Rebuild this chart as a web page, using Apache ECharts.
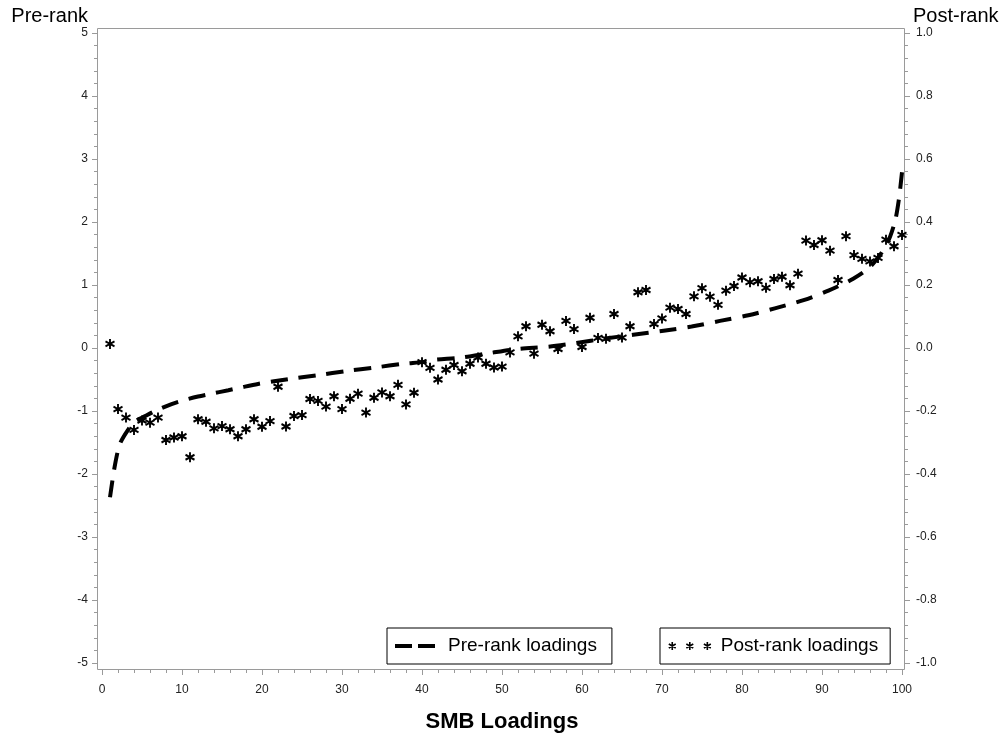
<!DOCTYPE html>
<html><head><meta charset="utf-8">
<script src="https://cdn.jsdelivr.net/npm/echarts@6/dist/echarts.min.js"></script>
<style>html,body{margin:0;padding:0;background:#fff}#c{width:1005px;height:743px}</style>
</head><body><div id="c"></div>
<script>
// x categories: portfolio rank 1..100
const ranks = Array.from({length: 100}, (_, i) => i + 1);
// post-rank loadings (right axis)
const postRank = [
  0.013,-0.194,-0.221,-0.260,-0.230,-0.237,-0.221,-0.292,-0.284,-0.280,
 -0.347,-0.226,-0.234,-0.255,-0.248,-0.258,-0.280,-0.258,-0.226,-0.250,
 -0.232,-0.123,-0.249,-0.216,-0.213,-0.162,-0.168,-0.186,-0.153,-0.194,
 -0.161,-0.145,-0.205,-0.158,-0.141,-0.153,-0.117,-0.179,-0.142,-0.045,
 -0.063,-0.100,-0.069,-0.054,-0.074,-0.050,-0.030,-0.050,-0.062,-0.059,
 -0.014, 0.037, 0.069,-0.018, 0.074, 0.053,-0.003, 0.086, 0.060, 0.003,
  0.096, 0.032, 0.029, 0.108, 0.033, 0.069, 0.177, 0.184, 0.076, 0.094,
  0.128, 0.124, 0.108, 0.164, 0.190, 0.163, 0.137, 0.182, 0.197, 0.224,
  0.209, 0.212, 0.191, 0.219, 0.226, 0.199, 0.236, 0.341, 0.327, 0.342,
  0.309, 0.216, 0.355, 0.295, 0.283, 0.275, 0.286, 0.344, 0.323, 0.359
];
// pre-rank loadings (left axis)
const preX = [1, 1.6, 2.25, 3.3, 4.1, 5.4, 6.8, 8.7, 10.2, 12, 13.5, 15.8, 17.25, 19.5, 23.5, 27, 30.6, 34.1, 37.7, 40.2, 41.4, 45, 48.5, 52, 55.8, 59.3, 62.9, 66.4, 70.2, 73.7, 77.25, 80.8, 84.1, 87.7, 90.8, 93.9, 96.2, 98.1, 99.1, 99.6, 100];
const preY = [-2.37, -1.87, -1.52, -1.29, -1.17, -1.08, -0.99, -0.89, -0.83, -0.77, -0.73, -0.67, -0.63, -0.57, -0.49, -0.43, -0.365, -0.31, -0.25, -0.22, -0.19, -0.15, -0.08, -0.016, 0.02, 0.08, 0.15, 0.21, 0.275, 0.34, 0.43, 0.52, 0.63, 0.76, 0.91, 1.10, 1.31, 1.65, 2.0, 2.35, 2.79];
const seriesNames = ['Pre-rank loadings', 'Post-rank loadings'];
const axisNames = {x: 'SMB Loadings', left: 'Pre-rank', right: 'Post-rank'};

const FONT = 'Liberation Sans, Arial, sans-serif';
const GRAY = '#9a9a9a';
const starPath = 'path://M4.33,0L4.33,10M0,2.5L8.66,7.5M0,7.5L8.66,2.5';
function starsIcon() {
  let p = 'path://';
  [3.46, 21, 38.54].forEach(c => {
    p += `M${c},0L${c},8M${c-3.46},2L${c+3.46},6M${c-3.46},6L${c+3.46},2`;
  });
  return p;
}

const chart = echarts.init(document.getElementById('c'), null, {renderer: 'canvas'});
const labelStyle = {color: '#222', fontSize: 12, fontFamily: FONT};
chart.setOption({
  animation: false,
  backgroundColor: '#fff',
  grid: {left: 102, right: 103, top: 33, bottom: 80},
  graphic: [{
    type: 'rect', shape: {x: 97.5, y: 28.5, width: 807, height: 641},
    style: {fill: 'none', stroke: GRAY, lineWidth: 1}, z: 0, silent: true
  }],
  xAxis: {
    type: 'value', min: 0, max: 100, interval: 10, offset: 7,
    name: axisNames.x, nameLocation: 'middle', nameGap: 41,
    nameTextStyle: {fontSize: 22, fontWeight: 'bold', color: '#000', fontFamily: FONT},
    axisLine: {show: false, onZero: false},
    axisTick: {show: true, length: 5, lineStyle: {color: GRAY}},
    minorTick: {show: true, splitNumber: 5, length: 3, lineStyle: {color: GRAY}},
    splitLine: {show: false},
    axisLabel: Object.assign({margin: 14}, labelStyle)
  },
  yAxis: [{
    type: 'value', min: -5, max: 5, interval: 1, offset: 5, position: 'left',
    name: axisNames.left, nameLocation: 'end', nameGap: 17,
    nameTextStyle: {fontSize: 20, color: '#000', fontFamily: FONT, align: 'right', verticalAlign: 'middle', padding: [0, 9, 0, 0]},
    axisLine: {show: false, onZero: false},
    axisTick: {show: true, length: 5, lineStyle: {color: GRAY}},
    minorTick: {show: true, splitNumber: 5, length: 3, lineStyle: {color: GRAY}},
    splitLine: {show: false},
    axisLabel: Object.assign({margin: 9}, labelStyle)
  }, {
    type: 'value', min: -1, max: 1, interval: 0.2, offset: 3, position: 'right',
    name: axisNames.right, nameLocation: 'end', nameGap: 17,
    nameTextStyle: {fontSize: 20, color: '#000', fontFamily: FONT, align: 'left', verticalAlign: 'middle', padding: [0, 0, 0, 8]},
    axisLine: {show: false, onZero: false},
    axisTick: {show: true, length: 5, lineStyle: {color: GRAY}},
    minorTick: {show: true, splitNumber: 5, length: 3, lineStyle: {color: GRAY}},
    splitLine: {show: false},
    axisLabel: Object.assign({margin: 11, formatter: v => v.toFixed(1)}, labelStyle)
  }],
  legend: [{
    data: [{name: seriesNames[0], icon: 'path://M0,0H17V4H0Z M23,0H40V4H23Z'}],
    left: 387, top: 628, itemWidth: 40, itemHeight: 4,
    padding: [8, 15, 8, 8], borderColor: '#000', borderWidth: 1,
    selectedMode: false,
    itemStyle: {color: '#000', borderWidth: 0},
    textStyle: {fontSize: 19, lineHeight: 20, color: '#000', fontFamily: FONT, padding: [0, 0, 0, 8]}
  }, {
    data: [{name: seriesNames[1], icon: starsIcon()}],
    left: 660, top: 628, itemWidth: 42, itemHeight: 8,
    padding: [8, 12, 8, 8], borderColor: '#000', borderWidth: 1,
    selectedMode: false,
    itemStyle: {color: '#000', borderColor: '#000', borderWidth: 1.6},
    textStyle: {fontSize: 19, lineHeight: 20, color: '#000', fontFamily: FONT, padding: [0, 0, 0, 5]}
  }],
  series: [{
    name: seriesNames[0], type: 'line', yAxisIndex: 0,
    data: preX.map((x, i) => [x, preY[i]]),
    smooth: 0.3, symbol: 'none',
    itemStyle: {color: '#000'},
    lineStyle: {color: '#000', width: 4, type: [17, 11], cap: 'butt'},
    z: 2
  }, {
    name: seriesNames[1], type: 'scatter', yAxisIndex: 1,
    data: ranks.map((x, i) => [x, postRank[i]]),
    symbol: starPath, symbolSize: [9, 10],
    itemStyle: {color: '#000', borderColor: '#000', borderWidth: 2, opacity: 1},
    z: 3
  }]
});
</script>
</body></html>
